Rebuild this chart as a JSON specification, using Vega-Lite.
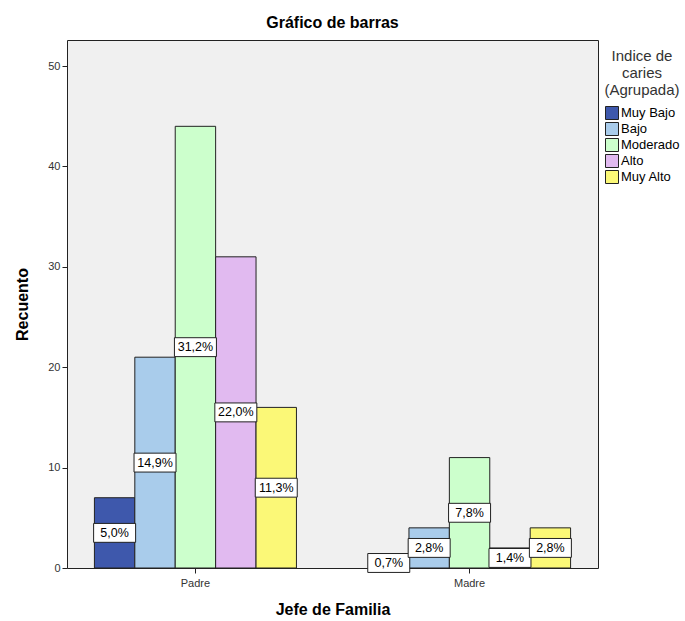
{
  "$schema": "https://vega.github.io/schema/vega-lite/v6.json",
  "width": 531,
  "height": 528,
  "autosize": "none",
  "padding": {"left": 67, "top": 40, "right": 87, "bottom": 53},
  "background": "white",
  "title": {"text": "Gráfico de barras", "font": "Liberation Sans", "fontSize": 16, "fontWeight": "bold", "color": "#000", "offset": 9, "anchor": "middle"},
  "config": {
    "font": "Liberation Sans",
    "view": {"fill": "#F0F0F0", "stroke": "#222", "strokeWidth": 1},
    "axis": {"grid": false, "domain": false, "tickColor": "#222", "tickSize": 5, "labelColor": "#333", "labelFontSize": 11, "titleColor": "#000", "titleFontSize": 16, "titleFontWeight": "bold"}
  },
  "data": {"values": [
    {"jefe": "Padre", "indice": "Muy Bajo", "count": 7, "label": "5,0%"},
    {"jefe": "Padre", "indice": "Bajo", "count": 21, "label": "14,9%"},
    {"jefe": "Padre", "indice": "Moderado", "count": 44, "label": "31,2%"},
    {"jefe": "Padre", "indice": "Alto", "count": 31, "label": "22,0%"},
    {"jefe": "Padre", "indice": "Muy Alto", "count": 16, "label": "11,3%"},
    {"jefe": "Madre", "indice": "Muy Bajo", "count": 1, "label": "0,7%"},
    {"jefe": "Madre", "indice": "Bajo", "count": 4, "label": "2,8%"},
    {"jefe": "Madre", "indice": "Moderado", "count": 11, "label": "7,8%"},
    {"jefe": "Madre", "indice": "Alto", "count": 2, "label": "1,4%"},
    {"jefe": "Madre", "indice": "Muy Alto", "count": 4, "label": "2,8%"}
  ]},
  "transform": [{"calculate": "datum.count / 2", "as": "mid"}],
  "encoding": {
    "x": {"field": "jefe", "type": "nominal", "sort": ["Padre", "Madre"],
      "scale": {"paddingInner": 0.263, "paddingOuter": 0.1},
      "axis": {"title": "Jefe de Familia", "labelAngle": 0, "labelPadding": 4, "titlePadding": 13}},
    "xOffset": {"field": "indice", "type": "nominal", "sort": ["Muy Bajo", "Bajo", "Moderado", "Alto", "Muy Alto"], "scale": {"paddingInner": 0, "paddingOuter": 0}}
  },
  "layer": [
    {
      "mark": {"type": "bar", "stroke": "#222", "strokeWidth": 1, "opacity": 1},
      "encoding": {
        "y": {"field": "count", "type": "quantitative", "scale": {"domain": [0, 52.6], "nice": false},
          "axis": {"title": "Recuento", "values": [0, 10, 20, 30, 40, 50], "titlePadding": 17, "labelPadding": 2}},
        "color": {"field": "indice", "type": "nominal",
          "scale": {"domain": ["Muy Bajo", "Bajo", "Moderado", "Alto", "Muy Alto"], "range": ["#3E58AC", "#A9CCEB", "#CCFFCC", "#E1BAF0", "#FBF877"]},
          "legend": {"title": ["Indice de", "caries", "(Agrupada)"], "orient": "none", "legendX": 537, "legendY": 9,
            "titleAlign": "center", "titleAnchor": "middle", "titleFontSize": 15, "titleFontWeight": "normal", "titleColor": "#333", "titleLineHeight": 17, "titlePadding": 8,
            "symbolType": "square", "symbolSize": 169, "symbolStrokeColor": "#222", "symbolStrokeWidth": 1, "symbolOpacity": 1,
            "labelFontSize": 13, "labelColor": "#000", "labelOffset": 2, "rowPadding": -2}}
      }
    },
    {
      "mark": {"type": "point", "shape": "M-1,-0.45L1,-0.45L1,0.45L-1,0.45Z", "filled": true, "fill": "white", "stroke": "#222", "strokeWidth": 1, "size": 1764, "opacity": 1},
      "encoding": {"y": {"field": "mid", "type": "quantitative"}}
    },
    {
      "mark": {"type": "text", "fontSize": 12.5, "color": "#000", "baseline": "middle", "align": "center"},
      "encoding": {"y": {"field": "mid", "type": "quantitative"}, "text": {"field": "label"}}
    }
  ]
}
